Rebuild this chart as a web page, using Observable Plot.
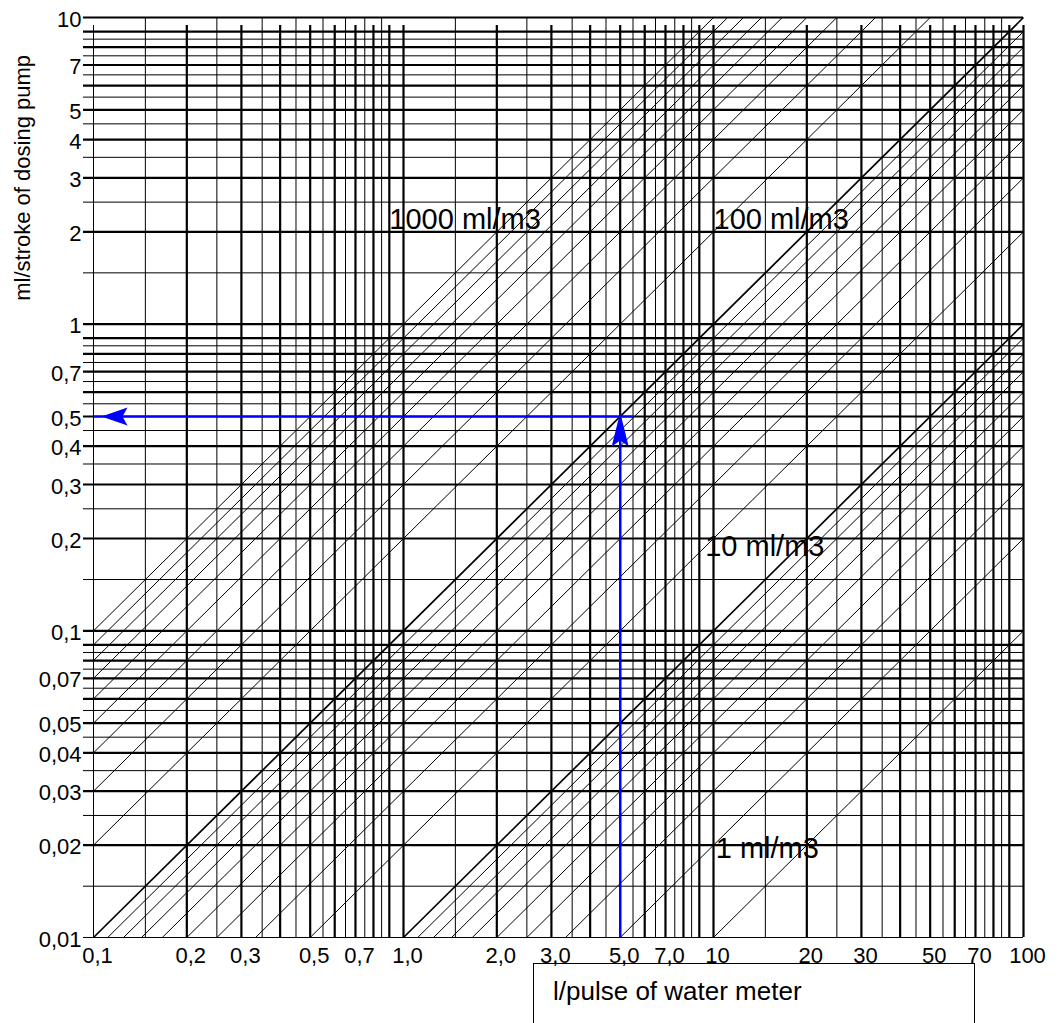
<!DOCTYPE html>
<html>
<head>
<meta charset="utf-8">
<script src="https://cdn.jsdelivr.net/npm/d3@7"></script>
<script src="https://cdn.jsdelivr.net/npm/@observablehq/plot@0.6"></script>
<style>
  body { margin: 0; background: #fff; font-family: "Liberation Sans", Arial, sans-serif; }
  #wrap { position: relative; width: 1058px; height: 1023px; overflow: hidden; background: #fff; }
  #chart svg { display: block; }
  #xlabel { position: absolute; left: 533px; top: 963px; width: 442px; height: 90px;
            border: 1.5px solid #000; box-sizing: border-box; }
  #xlabel span { position: absolute; left: 19px; top: 14px; font-size: 26px; line-height: 26px; white-space: nowrap; color: #000; }
</style>
</head>
<body>
<div id="wrap">
  <div id="chart"></div>
  <div id="xlabel"><span>l/pulse of water meter</span></div>
</div>
<script>
// ---- data ----
const xTicks = [0.1, 0.2, 0.3, 0.5, 0.7, 1, 2, 3, 5, 7, 10, 20, 30, 50, 70, 100];
const xTickLabels = ["0,1","0,2","0,3","0,5","0,7","1,0","2,0","3,0","5,0","7,0","10","20","30","50","70","100"];
const yTicks = [10, 7, 5, 4, 3, 2, 1, 0.7, 0.5, 0.4, 0.3, 0.2, 0.1, 0.07, 0.05, 0.04, 0.03, 0.02, 0.01];
const yTickLabels = ["10","7","5","4","3","2","1","0,7","0,5","0,4","0,3","0,2","0,1","0,07","0,05","0,04","0,03","0,02","0,01"];

// grid lines (l/pulse)
const xMajorGrid = [0.2,0.3,0.4,0.5,0.6,0.7,0.8,0.9,1,2,3,4,5,6,7,8,9,10,20,30,40,50,60,70,80,90,100];
const xMinorGrid = [0.147,0.25,0.35,0.45,0.55,0.65,0.75,0.85,1.47,2.5,3.5,4.5,5.5,6.5,7.5,8.5,14.7,25,35,45,55,65,75,85];
const xEdge = [0.1];
// grid lines (ml/stroke)
const yMajorGrid = [0.02,0.03,0.04,0.05,0.06,0.07,0.08,0.09,0.1,0.2,0.3,0.4,0.5,0.6,0.7,0.8,0.9,1,2,3,4,5,6,7,8,9,10];
const yMinorGrid = [0.01,0.0147,0.025,0.035,0.045,0.055,0.065,0.075,0.085,0.147,0.25,0.35,0.45,0.55,0.65,0.75,0.85,1.47,2.5,3.5,4.5,5.5,6.5,7.5,8.5];

// dosage lines (ml/m3)
const doses = [1,2,3,4,5,6,7,8,9,10,20,30,40,50,60,70,80,90,100,200,300,400,500,600,700,800,900,1000];
const boldDoses = [10,100];

// dosage labels
const doseLabels = ["1000 ml/m3", "100 ml/m3", "10 ml/m3", "1 ml/m3"];
const doseLabelX = [0.9, 10, 9.4, 10.17];
const doseLabelY = [2.05, 2.05, 0.175, 0.0181];

// worked example
const exampleX = 5;       // l/pulse
const exampleY = 0.5;     // ml/stroke
const exampleXEnd = 5.5;  // horizontal guide runs slightly past
const xMin = 0.1, xMax = 100, yMin = 0.01, yMax = 10;

const yAxisTitle = "ml/stroke of dosing pump";
const yAxisTitleAt = 3;

// ---- build ----
const font = "'Liberation Sans', Arial, Helvetica, sans-serif";
// dosage relation: ml/stroke = dose * (l/pulse) / 1000
const seg = d => {
  const xa = Math.max(xMin, yMin * 1000 / d);
  const xb = Math.min(xMax, yMax * 1000 / d);
  return {d, x1: xa, y1: d * xa / 1000, x2: xb, y2: d * xb / 1000};
};
const thinSegs = doses.filter(d => !boldDoses.includes(d)).map(seg);
const boldSegs = doses.filter(d => boldDoses.includes(d)).map(seg);

const xTickData = xTicks.map((v, i) => ({v, label: xTickLabels[i]}));
const yTickData = yTicks.map((v, i) => ({v, label: yTickLabels[i]}));
const doseLabelData = doseLabels.map((label, i) => ({label, x: doseLabelX[i], y: doseLabelY[i]}));
const titleData = [{label: yAxisTitle, y: yAxisTitleAt}];

const arrowUp = {draw(ctx) {
  ctx.moveTo(0, -4); ctx.lineTo(8.5, 30); ctx.lineTo(0, 24); ctx.lineTo(-8.5, 30); ctx.closePath();
}};
const arrowLeft = {draw(ctx) {
  ctx.moveTo(8, 0); ctx.lineTo(34, -9); ctx.lineTo(29, 0); ctx.lineTo(34, 9); ctx.closePath();
}};

const chart = Plot.plot({
  width: 1058,
  height: 985,
  marginLeft: 93,
  marginRight: 35,
  marginTop: 17,
  marginBottom: 48,
  x: {type: "log", domain: [xMin, xMax], axis: null},
  y: {type: "log", domain: [yMin, yMax], axis: null},
  style: {fontFamily: font, background: "white", color: "black", overflow: "visible"},
  marks: [
    Plot.ruleX(xMinorGrid, {y1: yMin, y2: yMax, stroke: "black", strokeWidth: 1}),
    Plot.ruleX(xEdge, {y1: yMin, y2: yMax, stroke: "black", strokeWidth: 1, insetBottom: -8}),
    Plot.ruleX(xMajorGrid, {y1: yMin, y2: yMax, stroke: "black", strokeWidth: 2.2, insetBottom: -8}),
    Plot.ruleY(yMinorGrid, {x1: xMin, x2: xMax, stroke: "black", strokeWidth: 1, insetLeft: -10}),
    Plot.ruleY(yMajorGrid, {x1: xMin, x2: xMax, stroke: "black", strokeWidth: 2.2, insetLeft: -10}),
    Plot.link(thinSegs, {x1: "x1", y1: "y1", x2: "x2", y2: "y2", stroke: "black", strokeWidth: 1}),
    Plot.link(boldSegs, {x1: "x1", y1: "y1", x2: "x2", y2: "y2", stroke: "black", strokeWidth: 1.7}),
    // worked example in blue
    Plot.link([{x1: exampleX, y1: yMin, x2: exampleX, y2: exampleY}], {x1: "x1", y1: "y1", x2: "x2", y2: "y2", stroke: "#0000ff", strokeWidth: 2.2}),
    Plot.link([{x1: xMin, y1: exampleY, x2: exampleXEnd, y2: exampleY}], {x1: "x1", y1: "y1", x2: "x2", y2: "y2", stroke: "#0000ff", strokeWidth: 2.2}),
    Plot.dot([{x: exampleX, y: exampleY}], {x: "x", y: "y", symbol: arrowUp, r: 10, fill: "#0000ff", stroke: "none"}),
    Plot.dot([{x: xMin, y: exampleY}], {x: "x", y: "y", symbol: arrowLeft, r: 10, fill: "#0000ff", stroke: "none"}),
    // dosage labels
    Plot.text(doseLabelData, {x: "x", y: "y", text: "label", textAnchor: "start", lineAnchor: "bottom", fontSize: 29, fill: "black"}),
    // tick labels
    Plot.text(xTickData, {x: "v", text: "label", y: yMin, lineAnchor: "top", dy: 10, dx: 4, fontSize: 22, fill: "black"}),
    Plot.text(yTickData, {y: "v", text: "label", frameAnchor: "left", textAnchor: "end", dx: -12, dy: 2, fontSize: 22, fill: "black"}),
    // y axis title
    Plot.text(titleData, {text: "label", y: "y", frameAnchor: "left", textAnchor: "middle", lineAnchor: "middle", dx: -71, rotate: -90, fontSize: 22, fill: "black"})
  ]
});
document.getElementById("chart").appendChild(chart);
</script>
</body>
</html>
